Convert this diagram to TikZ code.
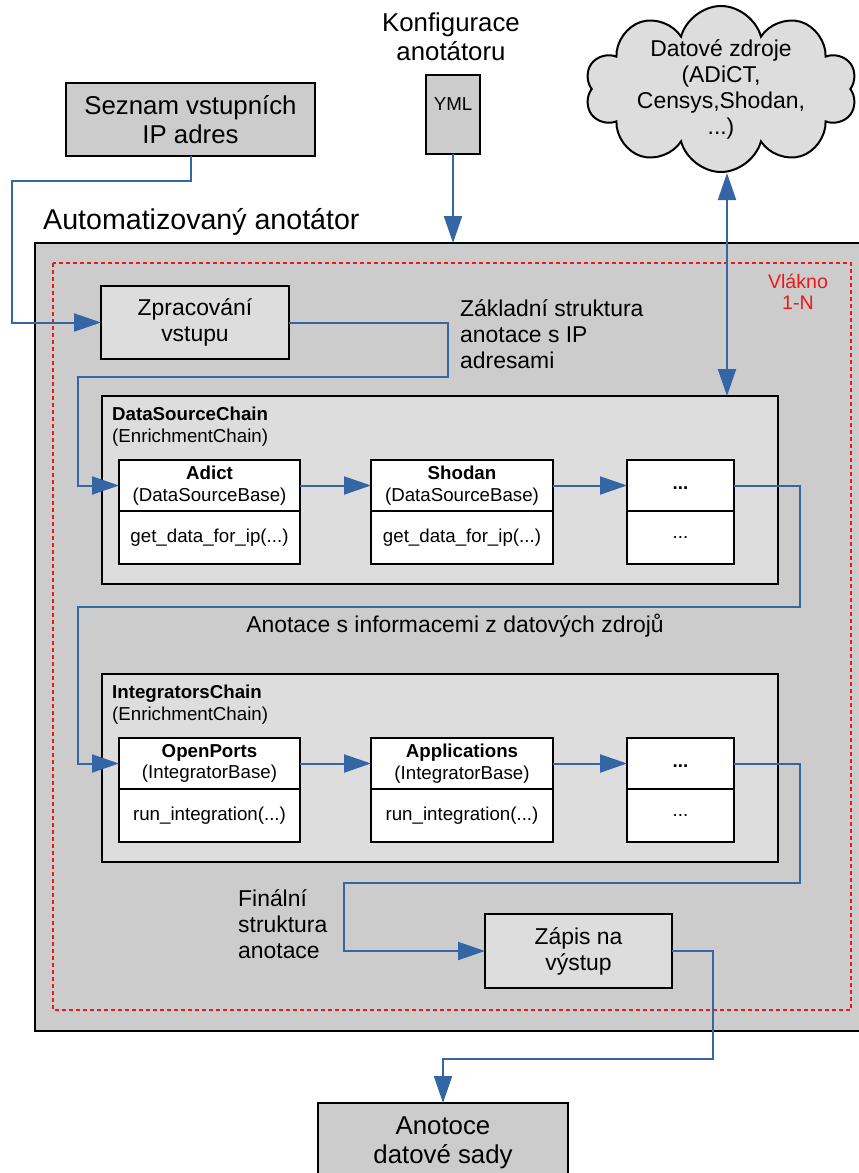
\documentclass[tikz,border=0pt]{standalone}
\usepackage{fontspec}
\setmainfont{Liberation Sans}
\usetikzlibrary{positioning, arrows.meta, shapes.symbols}

\definecolor{flowblue}{RGB}{52,101,164}
\definecolor{boxgray}{RGB}{204,204,204}
\definecolor{panelgray}{RGB}{221,221,221}
\definecolor{threadred}{RGB}{238,24,24}

\tikzset{
  textbig/.style={font=\fontsize{25.8}{29}\selectfont},
  textmid/.style={font=\fontsize{22.9}{26}\selectfont},
  textsmall/.style={font=\fontsize{18.7}{21.5}\selectfont},
  box/.style={draw, line width=2.2pt, align=center, inner sep=0pt, outer sep=0pt},
  cls/.style={box, fill=white, textsmall, minimum height=51},
  clsm/.style={box, fill=white, textsmall, minimum height=53},
  flow/.style={flowblue, line width=2pt},
}

\begin{document}
\begin{tikzpicture}[x=1pt, y=-1pt, >={Triangle[length=27pt,width=18pt]}]

\useasboundingbox (0,0) rectangle (859,1173);
\clip (0,0) rectangle (859,1173);

% Inputs
\node[box, textbig, fill=boxgray, minimum width=249, minimum height=73] (seznam) at (190.5,119.5) {Seznam vstupních\\IP adres};
\node[textbig, align=center] (konf) at (451,37) {Konfigurace\\anotátoru};
\node[box, textsmall, fill=boxgray, minimum width=54, minimum height=79, text height=35, text depth=44] (yml) at (453,114.5) {YML};
\node[cloud, cloud puffs=10, cloud ignores aspect, draw, line width=2pt, fill=panelgray,
      minimum width=272, minimum height=166, textmid, align=center, inner xsep=0pt, inner ysep=-14pt] (zdroje) at (721,89)
      {Datové zdroje\\(ADiCT,\\Censys,Shodan,\\...)};

% Annotator
\node[box, fill=boxgray, minimum width=865, minimum height=788, anchor=north west] (annot) at (35,243) {};
\node[anchor=west, font=\fontsize{28.6}{32}\selectfont, inner sep=0pt] (annotlabel) at (43,222) {Automatizovaný anotátor};
\draw[threadred, line width=2pt, dash pattern=on 4pt off 3pt] (53,263) rectangle (851,1010);
\node[text=threadred, font=\fontsize{19.6}{21}\selectfont, align=center] (vlakno) at (798,292) {Vlákno\\1-N};

\node[box, textmid, fill=panelgray, minimum width=188, minimum height=73] (zprac) at (195,322.5) {Zpracování\\vstupu};
\node[textmid, align=left, anchor=west, inner sep=0pt] (zaklad) at (460,334) {Základní struktura\\anotace s IP\\adresami};

% DataSourceChain
\node[box, fill=panelgray, minimum width=676, minimum height=188, anchor=north west] (dsc) at (102,396) {};
\node[textsmall, align=left, anchor=north west, inner sep=0pt] (dsctitle) at (112,407) {\textbf{DataSourceChain}\\(EnrichmentChain)};
\node[cls, minimum width=181] (adict) at (209.5,485.5) {\textbf{Adict}\\(DataSourceBase)};
\node[clsm, minimum width=181, below=0pt of adict] (adictm) {get\_data\_for\_ip(...)};
\node[cls, minimum width=182] (shodan) at (462,485.5) {\textbf{Shodan}\\(DataSourceBase)};
\node[clsm, minimum width=182, below=0pt of shodan] (shodanm) {get\_data\_for\_ip(...)};
\node[cls, minimum width=107, text height=12, text depth=4] (dsdots) at (680.5,485.5) {\textbf{...}};
\node[clsm, minimum width=107, below=0pt of dsdots] (dsdotsm) {...};

\node[textmid] (dslabel) at (455,626) {Anotace s informacemi z datových zdrojů};

% IntegratorsChain
\node[box, fill=panelgray, minimum width=676, minimum height=188, anchor=north west] (ic) at (102,674) {};
\node[textsmall, align=left, anchor=north west, inner sep=0pt] (ictitle) at (112,685) {\textbf{IntegratorsChain}\\(EnrichmentChain)};
\node[cls, minimum width=181] (openports) at (209.5,763.5) {\textbf{OpenPorts}\\(IntegratorBase)};
\node[clsm, minimum width=181, below=0pt of openports] (openportsm) {run\_integration(...)};
\node[cls, minimum width=182] (appl) at (462,763.5) {\textbf{Applications}\\(IntegratorBase)};
\node[clsm, minimum width=182, below=0pt of appl] (applm) {run\_integration(...)};
\node[cls, minimum width=107, text height=12, text depth=4] (icdots) at (680.5,763.5) {\textbf{...}};
\node[clsm, minimum width=107, below=0pt of icdots] (icdotsm) {...};

% Output
\node[textmid, align=left, anchor=west, inner sep=0pt] (final) at (238,924) {Finální\\struktura\\anotace};
\node[box, textmid, fill=panelgray, minimum width=187, minimum height=74] (zapis) at (578.5,951) {Zápis na\\výstup};
\node[box, textbig, fill=boxgray, minimum width=250, minimum height=80, anchor=north] (anot) at (443,1103) {Anotoce\\datové sady};

% Connectors
\draw[->, flow] (seznam.south) |- (12,181) |- (zprac.west);
\draw[->, flow] (yml.south) -- (yml.south |- annot.north);
\draw[<->, flow] ([xshift=6pt]zdroje.south) -- ([xshift=6pt]zdroje.south |- dsc.north);
\draw[->, flow] (zprac.east) -| (448,377) -- (78,377) |- (adict.west);
\draw[->, flow] (adict) -- (shodan);
\draw[->, flow] (shodan) -- (dsdots);
\draw[->, flow] (dsdots.east) -| (800,607) -- (78,607) |- (openports.west);
\draw[->, flow] (openports) -- (appl);
\draw[->, flow] (appl) -- (icdots);
\draw[->, flow] (icdots.east) -| (800,883) -- (344,883) |- (zapis.west);
\draw[->, flow] (zapis.east) -| (713,1059) -| (anot.north);

\end{tikzpicture}
\end{document}
